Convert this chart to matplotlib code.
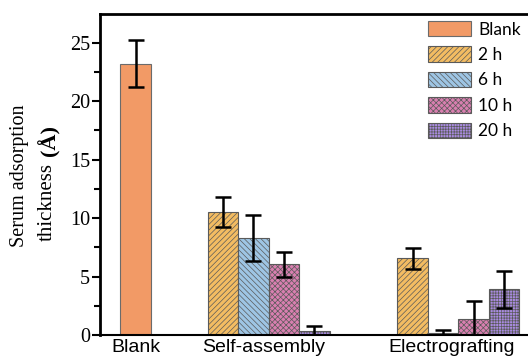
import numpy as np
import matplotlib
matplotlib.use("Agg")
from matplotlib import pyplot as plt
from matplotlib.ticker import MultipleLocator

# data
groups = ["Blank", "Self-assembly", "Electrografting"]
series = ["2 h", "6 h", "10 h", "20 h"]
blank_val = 23.2
blank_err = 2.0
sa_vals = [10.5, 8.3, 6.05, 0.37]
sa_errs = [1.3, 2.0, 1.05, 0.4]
eg_vals = [6.55, 0.17, 1.37, 3.9]
eg_errs = [0.9, 0.3, 1.5, 1.6]

colors = ["#F3BC62", "#9EC5E4", "#D97FB0", "#A98BE0"]
hatches = ["//////", "\\\\\\\\\\\\", "xxxxxx", "++++++"]
blank_color = "#F29A66"

plt.rcParams["hatch.linewidth"] = 0.5
plt.rcParams["hatch.color"] = "#5a5a5a"

fig = plt.figure(figsize=(5.28, 3.63), dpi=100)
ax = fig.add_axes([0.189, 0.0771, 0.811, 0.8843])

w = 1.0
sa_start = 2.856
eg_start = 9.08
ekw = dict(elinewidth=1.8, capthick=1.8, capsize=5.5, ecolor="black")

ax.bar(0, blank_val, w, color=blank_color, edgecolor="#6b6b6b", linewidth=0.8,
       label="Blank", yerr=blank_err, error_kw=ekw)
for i in range(len(series)):
    ax.bar(sa_start + i * w, sa_vals[i], w, color=colors[i], edgecolor="#5a5a5a",
           linewidth=0.8, hatch=hatches[i], label=series[i],
           yerr=[[min(sa_errs[i], sa_vals[i])], [sa_errs[i]]], error_kw=ekw)
    ax.bar(eg_start + i * w, eg_vals[i], w, color=colors[i], edgecolor="#5a5a5a",
           linewidth=0.8, hatch=hatches[i],
           yerr=[[min(eg_errs[i], eg_vals[i])], [eg_errs[i]]], error_kw=ekw)

ax.set_xlim(-1.177, 12.86)
ax.set_ylim(0, 27.46)
ax.set_xticks([0, 4.2, 10.35])
ax.set_xticklabels(groups, fontfamily="Liberation Sans", fontsize=14)
ax.tick_params(axis="x", length=0, pad=3)

ax.yaxis.set_major_locator(MultipleLocator(5))
ax.yaxis.set_minor_locator(MultipleLocator(2.5))
ax.tick_params(axis="y", which="major", length=6, width=1.5, direction="out", pad=1)
ax.tick_params(axis="y", which="minor", length=4, width=1.5, direction="out")
for lab in ax.get_yticklabels():
    lab.set_fontfamily("Liberation Serif")
    lab.set_fontsize(14.5)

ax.spines["right"].set_visible(False)
ax.spines["left"].set_linewidth(2)
ax.spines["top"].set_linewidth(2)
ax.spines["bottom"].set_linewidth(1.5)

# y label in two lines, (Å) bold
fig.text(19.5 / 528, 1 - 176 / 363, "Serum adsorption", rotation=90, ha="center",
         va="center", fontfamily="Liberation Serif", fontsize=14.5)
fig.text(47 / 528, 1 - 202 / 363, "thickness", rotation=90, ha="center",
         va="center", fontfamily="Liberation Serif", fontsize=15)
fig.text(49 / 528, 1 - 140 / 363, "(Å)", rotation=90, ha="center",
         va="center", fontfamily="Liberation Serif", fontsize=16, fontweight="bold")

leg = ax.legend(loc="upper right", bbox_to_anchor=(528 / 528, 1 - 14 / 363),
                bbox_transform=fig.transFigure, frameon=False,
                prop={"family": "Lato", "size": 12.5}, handlelength=2.5,
                handleheight=1.0, labelspacing=0.5, handletextpad=0.4,
                borderaxespad=0.2, borderpad=0.2)

fig.savefig("out.png", dpi=100)
